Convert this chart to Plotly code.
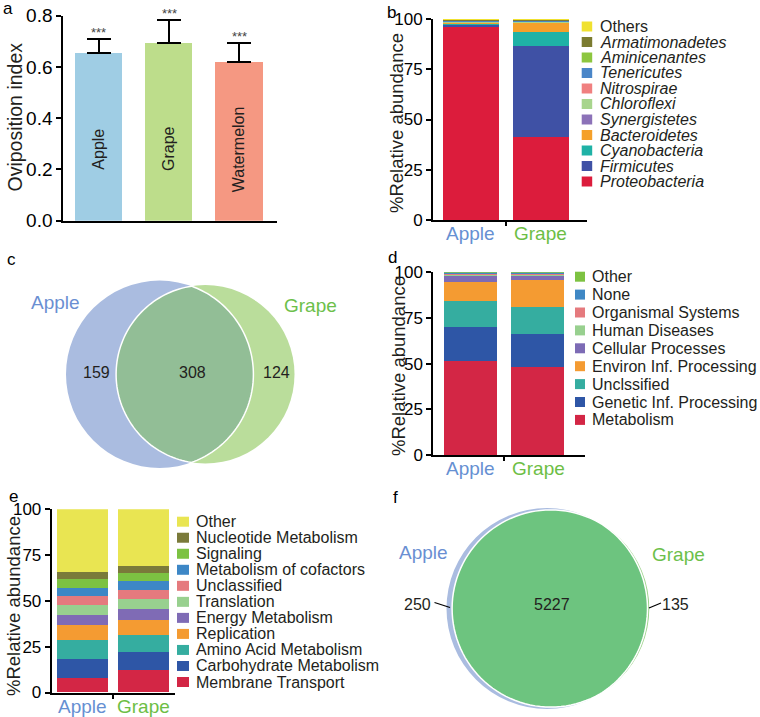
import math
import plotly.graph_objects as go

W, H = 760, 717
FONT = "Liberation Sans, Arial, sans-serif"
TXT = "#231F20"

# ---------------- data ----------------
ovi_categories = ["Apple", "Grape", "Watermelon"]
ovi_values = [0.655, 0.695, 0.619]
ovi_errors = [0.053, 0.088, 0.076]
ovi_colors = ["#9FCDE4", "#BDDD8B", "#F59882"]
ovi_ticks = [0.0, 0.2, 0.4, 0.6, 0.8]

groups = ["Apple", "Grape"]
group_colors = ["#6690D2", "#6DBE45"]
pct_ticks = [0, 25, 50, 75, 100]

# panel b (bottom -> top)
phyla = ["Proteobacteria", "Firmicutes", "Cyanobacteria", "Bacteroidetes", "Synergistetes",
         "Chloroflexi", "Nitrospirae", "Tenericutes", "Aminicenantes", "Armatimonadetes", "Others"]
phyla_apple = [96.2, 1.0, 0.8, 0.2, 0.2, 0.2, 0.2, 0.3, 0.2, 0.2, 0.5]
phyla_grape = [41.3, 45.3, 6.9, 4.7, 0.3, 0.2, 0.2, 0.3, 0.2, 0.2, 0.4]
phyla_colors = ["#DC1C3C", "#3F51A5", "#1FB2A6", "#F5A02A", "#8C72B8",
                "#A8D58D", "#F08080", "#4A86C8", "#8DC63F", "#7B7B30", "#F0E130"]

# panel d (bottom -> top)
kegg1 = ["Metabolism", "Genetic Inf. Processing", "Unclssified", "Environ Inf. Processing",
         "Cellular Processes", "Human Diseases", "Organismal Systems", "None", "Other"]
kegg1_apple = [51.1, 18.6, 14.2, 10.4, 3.7, 0.7, 0.5, 0.4, 0.4]
kegg1_grape = [47.8, 18.4, 14.8, 14.8, 2.3, 0.7, 0.4, 0.4, 0.4]
kegg1_colors = ["#D32645", "#2E56A6", "#35ADA0", "#F49B32", "#7D6BB5",
                "#98D08F", "#E57A7E", "#3F88C5", "#7DC242"]

# panel e (bottom -> top)
kegg2 = ["Membrane Transport", "Carbohydrate Metabolism", "Amino Acid Metabolism", "Replication",
         "Energy Metabolism", "Translation", "Unclassified", "Metabolism of cofactors",
         "Signaling", "Nucleotide Metabolism", "Other"]
kegg2_apple = [8.0, 10.3, 10.4, 8.2, 5.3, 5.5, 5.0, 4.3, 4.8, 3.8, 34.4]
kegg2_grape = [12.2, 9.9, 9.2, 8.2, 6.0, 5.3, 5.1, 4.8, 4.4, 4.0, 30.9]
kegg2_colors = ["#D32645", "#2E56A6", "#35ADA0", "#F49B32", "#7F6BB5", "#98D08F",
                "#E57A7E", "#3D87C6", "#7CC242", "#7A7A3A", "#E9E552"]

# venn counts
venn_c_counts = [159, 308, 124]   # apple only, shared, grape only
venn_f_counts = [250, 5227, 135]

# ---------------- helpers ----------------
def fx(x):
    return x / W

def fy(y):
    return 1 - y / H

fig = go.Figure()
shapes = []
annotations = []

def ann(x, y, text, size=16, color=TXT, xanchor="center", yanchor="middle", angle=0, **kw):
    annotations.append(dict(x=fx(x), y=fy(y), xref="paper", yref="paper", text=text,
                            showarrow=False, xanchor=xanchor, yanchor=yanchor, textangle=angle,
                            font=dict(family=FONT, size=size, color=color), **kw))

axis_common = dict(showgrid=False, zeroline=False, showline=True, linecolor="black",
                   linewidth=2, ticks="outside", tickwidth=2, ticklen=5, tickcolor="black",
                   automargin=False,
                   tickfont=dict(family=FONT, size=17, color="black"))

# ---------------- panel a ----------------
fig.add_trace(go.Bar(x=list(range(len(ovi_categories))), y=ovi_values, width=0.67,
                     marker=dict(color=ovi_colors, line=dict(width=0)),
                     error_y=dict(type="data", symmetric=False, array=ovi_errors,
                                  arrayminus=[0] * len(ovi_errors), color="black",
                                  thickness=2.2, width=12),
                     xaxis="x", yaxis="y", showlegend=False))
for i, (c, v, e) in enumerate(zip(ovi_categories, ovi_values, ovi_errors)):
    annotations.append(dict(x=i, y=0.28, xref="x", yref="y", text=c, showarrow=False,
                            textangle=-90, font=dict(family=FONT, size=16, color=TXT)))
    annotations.append(dict(x=i, y=v + e, xref="x", yref="y", text="***", showarrow=False,
                            yanchor="bottom", yshift=-3,
                            font=dict(family=FONT, size=13, color="#444444")))

fig.update_layout(
    xaxis=dict(domain=[fx(63.3), fx(276.7)], range=[-0.504, 2.532], anchor="y",
               **{**axis_common, "ticks": "", "showticklabels": False}),
    yaxis=dict(domain=[fy(220.7), fy(15.7)], range=[0, 0.8], anchor="x",
               tickvals=ovi_ticks, tickformat=".1f",
               **{**axis_common, "tickfont": dict(family=FONT, size=19, color="black")}),
)

# ---------------- stacked panels ----------------
def stacked(names, a_vals, g_vals, colors, xa, ya, width):
    for n, a, g, col in zip(names, a_vals, g_vals, colors):
        fig.add_trace(go.Bar(x=[0, 1], y=[a, g], width=width, name=n,
                             marker=dict(color=col, line=dict(width=0)),
                             xaxis=xa, yaxis=ya, showlegend=False))

stacked(phyla, phyla_apple, phyla_grape, phyla_colors, "x2", "y2", 0.8)
stacked(kegg1, kegg1_apple, kegg1_grape, kegg1_colors, "x3", "y3", 0.78)
stacked(kegg2, kegg2_apple, kegg2_grape, kegg2_colors, "x4", "y4", 0.84)

def pct_axes(xd, yd, xr):
    xa = dict(domain=[fx(xd[0]), fx(xd[1])], range=xr, tickvals=[0.5], ticktext=[""],
              **{**axis_common, "ticklen": 4, "tickwidth": 1.5})
    ya = dict(domain=[fy(yd[0]), fy(yd[1])], range=[0, 100], tickvals=pct_ticks,
              **{**axis_common, "tickfont": dict(family=FONT, size=17, color="black")})
    return xa, ya

xa2, ya2 = pct_axes((433, 587), (220, 19), [-0.536, 1.664])
xa3, ya3 = pct_axes((433.3, 585), (455, 272.3), [-0.551, 1.696])
xa4, ya4 = pct_axes((51.7, 175), (692.5, 509.3), [-0.505, 1.516])
fig.update_layout(xaxis2=dict(anchor="y2", **xa2), yaxis2=dict(anchor="x2", **ya2),
                  xaxis3=dict(anchor="y3", **xa3), yaxis3=dict(anchor="x3", **ya3),
                  xaxis4=dict(anchor="y4", **xa4), yaxis4=dict(anchor="x4", **ya4))

# group tick labels
for xa_name, ybase in (("x2", 220), ("x3", 455), ("x4", 692.5)):
    for i, (g, col) in enumerate(zip(groups, group_colors)):
        annotations.append(dict(x=i, y=fy(ybase + 1), xref=xa_name, yref="paper", text=g,
                                showarrow=False, yanchor="top",
                                font=dict(family=FONT, size=19, color=col)))

# legends (top item = last category)
def legend(names, colors, sq_x0, sq_w, sq_h, text_x, top_y, step, italic_except=None):
    for k, (n, col) in enumerate(zip(names[::-1], colors[::-1])):
        yc = top_y + k * step
        shapes.append(dict(type="rect", xref="paper", yref="paper",
                           x0=fx(sq_x0), x1=fx(sq_x0 + sq_w), y0=fy(yc - sq_h / 2),
                           y1=fy(yc + sq_h / 2), fillcolor=col, line=dict(width=0)))
        label = n
        if italic_except is not None and n not in italic_except:
            label = "<i>" + n + "</i>"
        ann(text_x, yc, label, size=16, xanchor="left")

legend(phyla, phyla_colors, 581.7, 10.5, 10, 598, 26.5, 15.5, italic_except=["Others"])
legend(kegg1, kegg1_colors, 575, 10, 10, 590, 276.7, 17.9)
legend(kegg2, kegg2_colors, 177, 12, 10, 194, 521.7, 16.03)

# y titles
ann(15, 117.5, "Oviposition index", size=19.5, angle=-90)
ann(397, 123, "%Relative abundance", size=18.5, angle=-90)
ann(398, 366, "%Relative abundance", size=18.5, angle=-90)
ann(13, 606, "%Relative abundance", size=18.5, angle=-90)

# panel letters
for letter, (lx, ly) in {"a": (8, 9), "b": (391, 12), "c": (11, 259),
                         "d": (392, 257), "e": (13, 496), "f": (395, 497)}.items():
    ann(lx, ly, letter, size=17, color="black")

# ---------------- venn diagrams ----------------
def circle(cx, cy, r, color):
    shapes.append(dict(type="circle", xref="paper", yref="paper", x0=fx(cx - r), x1=fx(cx + r),
                       y0=fy(cy + r), y1=fy(cy - r), fillcolor=color, line=dict(width=0),
                       layer="above"))

def lens(c1, r1, c2, r2, color, n=80):
    (x1, y1), (x2, y2) = c1, c2
    d = x2 - x1
    a = (r1 ** 2 - r2 ** 2 + d ** 2) / (2 * d)
    h = math.sqrt(max(r1 ** 2 - a ** 2, 0))
    t1 = math.atan2(h, a)
    t2 = math.atan2(h, d - a)
    pts = []
    for k in range(n + 1):  # arc of circle 1 (right side), top -> bottom
        t = -t1 + 2 * t1 * k / n
        pts.append((x1 + r1 * math.cos(t), y1 + r1 * math.sin(t)))
    for k in range(n + 1):  # arc of circle 2 (left side), bottom -> top
        t = math.pi - t2 + 2 * t2 * k / n
        pts.append((x2 + r2 * math.cos(t), y2 + r2 * math.sin(t)))
    path = "M " + " L ".join(f"{fx(px):.5f},{fy(py):.5f}" for px, py in pts) + " Z"
    shapes.append(dict(type="path", xref="paper", yref="paper", path=path, fillcolor=color,
                       line=dict(color="white", width=1.5), layer="above"))

# panel c
cA, rA = (159.7, 374.3), 93.7
cG, rG = (205.3, 374.3), 89.2
circle(*cA, rA, "#AABCE0")
circle(*cG, rG, "#BADD9B")
lens(cA, rA, cG, rG, "#92BE96")
ann(55, 302.5, "Apple", size=19, color="#6A8FD2")
ann(310, 305, "Grape", size=19, color="#6CC04A")
ann(96, 372, str(venn_c_counts[0]), size=16)
ann(192, 372, str(venn_c_counts[1]), size=16)
ann(276, 372, str(venn_c_counts[2]), size=16)

# panel f
fA, frA = (547.0, 608.5), 100.5
fG, frG = (550.7, 608.5), 98.6
circle(*fA, frA, "#AABCE0")
circle(*fG, frG, "#9CD28A")
lens(fA, frA, fG, frG, "#6DC47F")
ann(424, 552, "Apple", size=19, color="#6A8FD2")
ann(678, 554, "Grape", size=19, color="#6CC04A")
ann(433, 604, str(venn_f_counts[0]), size=16, xanchor="right")
ann(552, 604, str(venn_f_counts[1]), size=16)
ann(660, 604, str(venn_f_counts[2]), size=16, xanchor="left")
for (x0, y0, x1, y1) in ((434.5, 602.5, 450, 607.5), (649, 608, 661, 603)):
    shapes.append(dict(type="line", xref="paper", yref="paper", x0=fx(x0), y0=fy(y0),
                       x1=fx(x1), y1=fy(y1), line=dict(color="black", width=1.2),
                       layer="above"))

fig.update_layout(template="none", width=W, height=H,
                  margin=dict(l=0, r=0, t=0, b=0, pad=0, autoexpand=False),
                  paper_bgcolor="white", plot_bgcolor="white", barmode="stack",
                  bargap=0, shapes=shapes, annotations=annotations,
                  font=dict(family=FONT, color="black"))

fig.write_html("out.html", config={"displayModeBar": False},
               post_script="document.body.style.margin='0px';"
                           "document.body.style.overflow='hidden';")
